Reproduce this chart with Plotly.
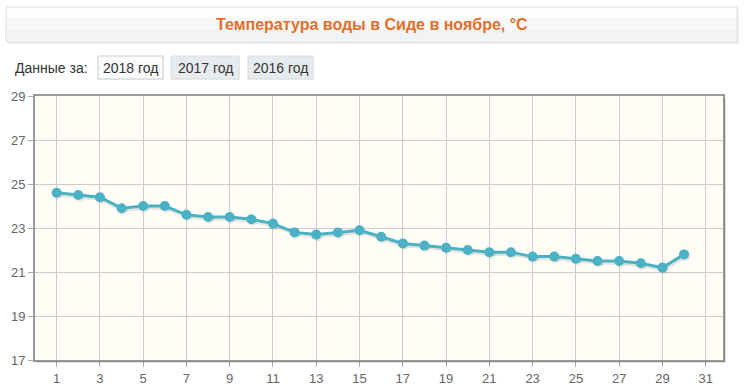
import plotly.graph_objects as go

days = list(range(1, 31))
temps = [24.6, 24.5, 24.4, 23.9, 24.0, 24.0, 23.6, 23.5, 23.5, 23.4,
         23.2, 22.8, 22.7, 22.8, 22.9, 22.6, 22.3, 22.2, 22.1, 22.0,
         21.9, 21.9, 21.7, 21.7, 21.6, 21.5, 21.5, 21.4, 21.2, 21.8]
x_ticks = list(range(1, 32, 2))
y_ticks = [17, 19, 21, 23, 25, 27, 29]
title_text = "Температура воды в Сиде в ноябре, °C"
years = ["2018 год", "2017 год", "2016 год"]

W, H = 745, 391
ML, MR, MT, MB = 35, 22, 96, 31
PW, PH = W - ML - MR, H - MT - MB

def px(x):
    return (x - ML) / PW

def py(y):
    return (H - MB - y) / PH

fig = go.Figure()
# soft shadow under the line
fig.add_trace(go.Scatter(
    x=[d + 0.06 for d in days], y=[t - 0.08 for t in temps],
    mode="lines+markers",
    line=dict(color="rgba(0,0,0,0.10)", width=4),
    marker=dict(size=10, color="rgba(0,0,0,0.08)"),
    hoverinfo="skip", showlegend=False))
fig.add_trace(go.Scatter(
    x=days, y=temps, mode="lines+markers",
    line=dict(color="#4bb2c5", width=3),
    marker=dict(size=10, color="#4bb2c5"),
    showlegend=False))

shapes = []
# title box (shadow, body, lighter top half for a gradient look)
shapes.append(dict(type="rect", xref="paper", yref="paper",
                   x0=px(8), x1=px(739), y0=py(44), y1=py(9),
                   fillcolor="rgba(0,0,0,0.07)", line=dict(width=0), layer="below"))
shapes.append(dict(type="rect", xref="paper", yref="paper",
                   x0=px(6), x1=px(737), y0=py(42), y1=py(7),
                   fillcolor="#f1f3f5", line=dict(color="#dfe3e8", width=1), layer="below"))
shapes.append(dict(type="rect", xref="paper", yref="paper",
                   x0=px(7), x1=px(736), y0=py(30), y1=py(8),
                   fillcolor="#f7f8fa", line=dict(width=0), layer="below"))
shapes.append(dict(type="rect", xref="paper", yref="paper",
                   x0=px(7), x1=px(736), y0=py(18), y1=py(8),
                   fillcolor="#fdfdfe", line=dict(width=0), layer="below"))
# buttons
btns = [(98, 163, True), (171, 239, False), (248, 313, False)]
annotations = []
for (x0, x1, sel), label in zip(btns, years):
    shapes.append(dict(type="rect", xref="paper", yref="paper",
                       x0=px(x0 + 1), x1=px(x1 + 1), y0=py(80), y1=py(57),
                       fillcolor="rgba(0,0,0,0.06)", line=dict(width=0), layer="below"))
    shapes.append(dict(type="rect", xref="paper", yref="paper",
                       x0=px(x0), x1=px(x1), y0=py(79), y1=py(56),
                       fillcolor="#fafbfc" if sel else "#e8ebee",
                       line=dict(color="#c9ced3" if sel else "#d9dde0", width=1),
                       layer="below"))
    annotations.append(dict(xref="paper", yref="paper", x=px((x0 + x1) / 2), y=py(68),
                            xanchor="center", yanchor="middle",
                            text=label, showarrow=False,
                            font=dict(family="Arial, Liberation Sans", size=14, color="#333")))
annotations.append(dict(xref="paper", yref="paper", x=px(13), y=py(68),
                        xanchor="left", yanchor="middle",
                        text="Данные за:", showarrow=False,
                        font=dict(family="Arial, Liberation Sans", size=14, color="#333")))
annotations.append(dict(xref="paper", yref="paper", x=px(372), y=py(24),
                        xanchor="center", yanchor="middle",
                        text="<b>" + title_text + "</b>", showarrow=False,
                        font=dict(family="Arial, Liberation Sans", size=16, color="#e0702a")))
# right-side and bottom plot shadows
shapes.append(dict(type="line", xref="paper", yref="paper",
                   x0=px(725), x1=px(725), y0=py(362), y1=py(98),
                   line=dict(color="rgba(0,0,0,0.12)", width=2)))
shapes.append(dict(type="line", xref="paper", yref="paper",
                   x0=px(36), x1=px(725), y0=py(362), y1=py(362),
                   line=dict(color="rgba(0,0,0,0.10)", width=2)))

fig.update_layout(
    width=W, height=H,
    margin=dict(l=ML, r=MR, t=MT, b=MB, pad=0, autoexpand=False),
    paper_bgcolor="white",
    plot_bgcolor="#fffdf6",
    shapes=shapes, annotations=annotations,
    font=dict(family="Arial, Liberation Sans", size=12, color="#666"),
)
fig.update_xaxes(range=[0, 31.8], tickvals=x_ticks, showgrid=True, automargin=False,
                 gridcolor="#cccccc", gridwidth=1,
                 showline=True, linecolor="#999", linewidth=2, mirror=True,
                 ticks="outside", ticklen=5, tickcolor="#aaa", zeroline=False,
                 tickfont=dict(size=13, color="#666"))
fig.update_yaxes(range=[17, 29], tickvals=y_ticks, showgrid=True, automargin=False,
                 gridcolor="#cccccc", gridwidth=1,
                 showline=True, linecolor="#999", linewidth=2, mirror=True,
                 ticks="outside", ticklen=5, tickcolor="#aaa", zeroline=False,
                 tickfont=dict(size=13, color="#666"))

fig.write_html("out.html", config={"displayModeBar": False},
               post_script="document.body.style.margin='0';document.body.style.overflow='hidden';")
